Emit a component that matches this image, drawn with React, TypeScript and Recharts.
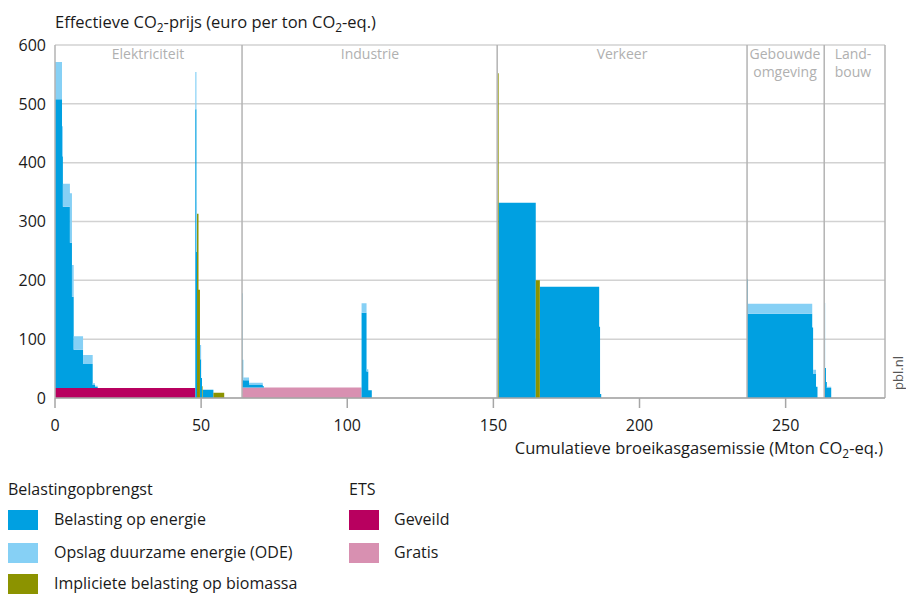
import React from 'react';
import {
  ComposedChart,
  Area,
  XAxis,
  YAxis,
  CartesianGrid,
  ReferenceLine,
} from 'recharts';

// Each row is the start of a block (Mton CO2-eq.); a block runs until the next start.
// Values are the price components in euro per ton CO2-eq.
const blockStart = [
  // Elektriciteit
  0, 2.4, 2.7, 5.1, 5.8, 6.4, 9.6, 12.9, 13.7, 14.6,
  48.0, 48.4, 48.6, 49.1, 49.6, 50.0, 50.3, 50.5, 54.2, 57.9,
  // Industrie
  64.0, 64.15, 64.4, 66.4, 71.1, 71.5, 104.9, 106.6, 107.2, 108.4,
  // Verkeer
  151.5, 151.8, 164.5, 165.9, 186.2, 186.5, 186.9,
  // Gebouwde omgeving
  236.8, 237.1, 259.1, 259.4, 260.4, 260.9,
  // Landbouw
  263.3, 263.5, 263.8, 264.1, 265.6,
];

const etsGeveild = [
  17, 17, 17, 17, 17, 17, 17, 17, 17, 17,
  0, 0, 0, 0, 0, 0, 0, 0, 0, 0,
  0, 0, 0, 0, 0, 0, 0, 0, 0, 0,
  0, 0, 0, 0, 0, 0, 0,
  0, 0, 0, 0, 0, 0,
  0, 0, 0, 0, 0,
];

const etsGratis = [
  0, 0, 0, 0, 0, 0, 0, 0, 0, 0,
  0, 0, 0, 0, 0, 0, 0, 0, 0, 0,
  18, 18, 18, 18, 18, 18, 0, 0, 0, 0,
  0, 0, 0, 0, 0, 0, 0,
  0, 0, 0, 0, 0, 0,
  0, 0, 0, 0, 0,
];

const belastingEnergie = [
  491, 394, 308, 247, 155, 65, 41, 5, 2, 0,
  491, 248, 0, 0, 66, 34, 0, 14, 0, 0,
  160, 47, 12, 5, 2, 0, 145, 45, 13, 0,
  0, 332, 0, 189, 121, 7, 0,
  202, 143, 120, 41, 19, 0,
  162, 51, 27, 17, 0,
];

const opslagOde = [
  63, 51, 39, 84, 54, 23, 15, 3, 2, 0,
  63, 85, 0, 0, 24, 0, 0, 0, 0, 0,
  0, 0, 5, 3, 0, 0, 16, 4, 0, 0,
  0, 0, 0, 0, 0, 0, 0,
  0, 17, 0, 7, 0, 0,
  0, 0, 0, 2, 0,
];

const biomassa = [
  0, 0, 0, 0, 0, 0, 0, 0, 0, 0,
  0, 0, 313, 184, 0, 0, 20, 0, 9, 0,
  0, 0, 0, 0, 0, 0, 0, 0, 0, 0,
  552, 0, 200, 0, 0, 0, 0,
  0, 0, 0, 0, 0, 0,
  0, 0, 0, 0, 0,
];

const xTicks = [0, 50, 100, 150, 200, 250];
const yTicks = [0, 100, 200, 300, 400, 500, 600];
const sectorBounds = [64.0, 151.3, 236.8, 263.2];

const data = blockStart.map((x, i) => ({
  x,
  geveild: etsGeveild[i],
  gratis: etsGratis[i],
  energie: belastingEnergie[i],
  ode: opslagOde[i],
  biomassa: biomassa[i],
}));

const FONT = "'Open Sans', 'Noto Sans', sans-serif";
const TEXT = '#1a1a1a';
const SECTOR = '#b3b3b3';

const abs = (style: React.CSSProperties): React.CSSProperties => ({
  position: 'absolute',
  whiteSpace: 'nowrap',
  lineHeight: '20px',
  ...style,
});

const Sub = ({ children }: { children: React.ReactNode }) => (
  <span style={{ fontSize: '0.72em', position: 'relative', top: '0.35em' }}>{children}</span>
);

const legendLeft = [
  { label: 'Belasting op energie', color: '#00a0e1' },
  { label: 'Opslag duurzame energie (ODE)', color: '#86d0f5' },
  { label: 'Impliciete belasting op biomassa', color: '#8c9300' },
];
const legendRight = [
  { label: 'Geveild', color: '#b8005f' },
  { label: 'Gratis', color: '#d890b1' },
];
const rowTops = [510, 543, 574];

export default function App() {
  return (
    <div
      style={{
        position: 'absolute',
        left: 0,
        top: 0,
        width: 906,
        height: 594,
        overflow: 'hidden',
        fontFamily: FONT,
        color: TEXT,
        background: '#fff',
      }}
    >
      <ComposedChart
        width={906}
        height={594}
        data={data}
        margin={{ top: 45, right: 21, left: 0, bottom: 156 }}
      >
        <CartesianGrid vertical={false} stroke="#d2d2d2" strokeWidth={1.5} />
        <XAxis
          dataKey="x"
          type="number"
          domain={[0, 284]}
          ticks={xTicks}
          allowDataOverflow
          height={40}
          tickSize={10}
          tickMargin={12}
          axisLine={{ stroke: '#a6a6a6', strokeWidth: 1.5 }}
          tickLine={{ stroke: '#a6a6a6', strokeWidth: 1.5 }}
          tick={{ fill: TEXT, fontSize: 16, fontFamily: FONT }}
        />
        <YAxis
          type="number"
          domain={[0, 600]}
          ticks={yTicks}
          width={55}
          tickLine={false}
          tickSize={6}
          tickMargin={3}
          axisLine={{ stroke: '#b3b3b3', strokeWidth: 1.5 }}
          tick={{ fill: TEXT, fontSize: 16, fontFamily: FONT }}
        />
        {sectorBounds.map((b) => (
          <ReferenceLine key={b} x={b} stroke={SECTOR} strokeWidth={1.5} />
        ))}
        <ReferenceLine x={284} stroke={SECTOR} strokeWidth={1.5} />
        <Area type="stepAfter" dataKey="geveild" stackId="p" stroke="none" fill="#b8005f" fillOpacity={1} isAnimationActive={false} />
        <Area type="stepAfter" dataKey="gratis" stackId="p" stroke="none" fill="#d890b1" fillOpacity={1} isAnimationActive={false} />
        <Area type="stepAfter" dataKey="energie" stackId="p" stroke="none" fill="#00a0e1" fillOpacity={1} isAnimationActive={false} />
        <Area type="stepAfter" dataKey="ode" stackId="p" stroke="none" fill="#86d0f5" fillOpacity={1} isAnimationActive={false} />
        <Area type="stepAfter" dataKey="biomassa" stackId="p" stroke="none" fill="#8c9300" fillOpacity={1} isAnimationActive={false} />
      </ComposedChart>

      {/* axis titles */}
      <div style={abs({ left: 55, top: 12, fontSize: 16.5 })}>
        Effectieve CO<Sub>2</Sub>-prijs (euro per ton CO<Sub>2</Sub>-eq.)
      </div>
      <div style={abs({ right: 23, top: 438, fontSize: 16.5 })}>
        Cumulatieve broeikasgasemissie (Mton CO<Sub>2</Sub>-eq.)
      </div>
      <div
        style={abs({
          left: 898,
          top: 373,
          fontSize: 13,
          color: '#555',
          transform: 'translate(-50%, -50%) rotate(-90deg)',
        })}
      >
        pbl.nl
      </div>

      {/* sector labels */}
      {[
        { t: ['Elektriciteit'], x: 148 },
        { t: ['Industrie'], x: 370 },
        { t: ['Verkeer'], x: 622 },
        { t: ['Gebouwde', 'omgeving'], x: 785 },
        { t: ['Land-', 'bouw'], x: 853 },
      ].map((s) => (
        <div
          key={s.x}
          style={abs({
            left: s.x,
            top: 45,
            transform: 'translateX(-50%)',
            textAlign: 'center',
            fontSize: 14,
            lineHeight: '18px',
            color: '#b0b0b0',
          })}
        >
          {s.t.map((l) => (
            <div key={l}>{l}</div>
          ))}
        </div>
      ))}

      {/* legend */}
      <div style={abs({ left: 8, top: 479, fontSize: 16 })}>Belastingopbrengst</div>
      <div style={abs({ left: 349, top: 479, fontSize: 16 })}>ETS</div>
      {legendLeft.map((l, i) => (
        <React.Fragment key={l.label}>
          <div style={abs({ left: 8, top: rowTops[i], width: 30, height: 20, background: l.color })} />
          <div style={abs({ left: 54, top: rowTops[i] - 1, fontSize: 16 })}>{l.label}</div>
        </React.Fragment>
      ))}
      {legendRight.map((l, i) => (
        <React.Fragment key={l.label}>
          <div style={abs({ left: 349, top: rowTops[i], width: 30, height: 20, background: l.color })} />
          <div style={abs({ left: 394, top: rowTops[i] - 1, fontSize: 16 })}>{l.label}</div>
        </React.Fragment>
      ))}
    </div>
  );
}
